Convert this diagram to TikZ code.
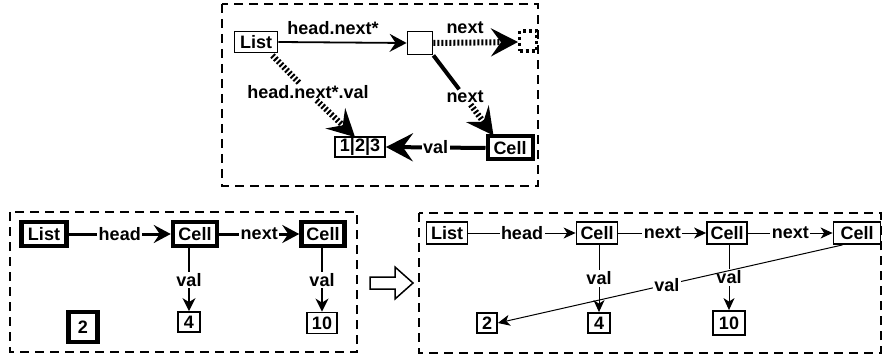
\documentclass[tikz,border=0pt]{standalone}
\usepackage{fontspec}
\setmainfont{Liberation Sans}
\usetikzlibrary{arrows.meta,calc}

\tikzset{
  every node/.style={font=\fontsize{18}{18}\selectfont\bfseries, inner sep=0pt},
  frame/.style={draw, line width=1.6pt, dash pattern=on 9pt off 6pt},
  thinbox/.style={draw, line width=1.8pt, minimum height=22pt},
  thickbox/.style={draw, line width=4.5pt, minimum height=24pt},
  lab/.style={fill=white, inner sep=1.5pt},
  hatch/.style={line width=6pt, dash pattern=on 2pt off 2pt},
  bigtip/.style={-{Stealth[length=27pt, width=28pt, inset=10pt]}},
  midtip/.style={-{Stealth[length=17pt, width=18pt, inset=6pt]}},
  smalltip/.style={-{Stealth[length=13pt, width=13pt, inset=4pt]}},
  tinytip/.style={-{Stealth[length=12pt, width=11pt, inset=3.5pt]}},
}

\begin{document}
\begin{tikzpicture}[x=1pt, y=-1pt]
\useasboundingbox (0,0) rectangle (883,358);

% ---------- abstract graph (top) ----------
\draw[frame] (222,4) rectangle (538,186);

\node[thinbox, minimum width=43pt, minimum height=21pt] (tlist) at (256,42) {List};
\node[draw, line width=1.8pt, minimum width=25pt, minimum height=23pt] (tany) at (420,43) {};
\node[thinbox, inner xsep=3pt, minimum width=50pt, minimum height=20pt] (tvals) at (360,147) {1|2|3};
\node[draw, line width=4pt, minimum width=45pt, minimum height=23pt] (tcell) at (510,148) {Cell};
\node[draw, line width=3.5pt, dash pattern=on 3pt off 3pt, minimum width=17pt, minimum height=20pt] (tmore) at (528,41) {};

\node (lhn) at (333,28) {head.next*};
\node (lnx1) at (465,28) {next};
\node[lab] (lnx2) at (465,97) {next};
\node[lab] (lhv) at (308,92) {head.next*.val};
\coordinate (tmoretip) at (518,42);
\coordinate (tcelltip) at ($(tcell.north west)+(8,1)$);
\coordinate (tvalstip) at ($(tvals.north)+(-5,1)$);
\coordinate (tlistsw) at ($(tlist.south east)+(-6,2)$);

\draw[line width=1.8pt, midtip] (tlist.east) -- (tany.west);
\draw[hatch, bigtip] (tany.east) -- (tmoretip);
\draw[line width=4pt] (tany.south east) -- (lnx2);
\draw[hatch, bigtip] (lnx2) -- (tcelltip);
\draw[hatch] (tlistsw) -- (lhv);
\draw[hatch, bigtip] (lhv) -- (tvalstip);
\draw[line width=4pt, bigtip] (tcell.west) -- node[lab] {val} (tvals.east);

% ---------- concrete heap before (bottom left) ----------
\draw[frame] (10,212) rectangle (357,352);

\node[thickbox, minimum width=45pt] (alist) at (44,234) {List};
\node[thickbox, minimum width=44pt] (acell1) at (195,234) {Cell};
\node[thickbox, minimum width=43pt] (acell2) at (323,234) {Cell};
\node[thickbox, minimum width=29pt, minimum height=30pt] (atwo) at (83,327) {2};
\node[thinbox, minimum width=22pt, minimum height=20pt] (afour) at (189,322) {4};
\node[thinbox, minimum width=30pt, minimum height=21pt] (aten) at (322,323) {10};

\draw[line width=3pt, midtip] (alist.east) -- node[lab] {head} (acell1.west);
\draw[line width=3pt, midtip] (acell1.east) -- node[lab] {next} (acell2.west);
\draw[line width=1.5pt, smalltip] (afour |- acell1.south) -- node[lab] {val} (afour.north);
\draw[line width=1.5pt, smalltip] (aten |- acell2.south) -- node[lab] {val} (aten.north);

% ---------- transition arrow ----------
\draw[line width=1.5pt, line join=miter]
  (370,277) -- (395,277) -- (395,267) -- (413,283) -- (395,299) -- (395,289) -- (370,289) -- cycle;

% ---------- concrete heap after (bottom right) ----------
\draw[frame] (419,213) rectangle (881,353);

\node[thinbox, minimum width=41pt] (blist) at (447,233) {List};
\node[thinbox, minimum width=41pt] (bcell1) at (597,233) {Cell};
\node[thinbox, minimum width=40pt] (bcell2) at (727,233) {Cell};
\node[thinbox, minimum width=47pt] (bcell3) at (857,233) {Cell};
\node[thinbox, minimum width=20pt, minimum height=20pt] (btwo) at (487,323) {2};
\node[thinbox, minimum width=22pt, minimum height=20pt] (bfour) at (599,323) {4};
\node[thinbox, minimum width=32pt, minimum height=24pt] (bten) at (729,323) {10};
\coordinate (bc3out) at ($(bcell3.south west)+(10,0)$);

\draw[line width=1pt, tinytip] (blist.east) -- node[lab] {head} (bcell1.west);
\draw[line width=1pt, tinytip] (bcell1.east) -- node[lab] {next} (bcell2.west);
\draw[line width=1pt, tinytip] (bcell2.east) -- node[lab] {next} (bcell3.west);
\draw[line width=1pt, tinytip] (bfour |- bcell1.south) -- node[lab] {val} (bfour.north);
\draw[line width=1pt, tinytip] (bten |- bcell2.south) -- node[lab] {val} (bten.north);
\draw[line width=1pt, tinytip] (bc3out) -- node[lab, pos=0.51] {val} (btwo.east);
\end{tikzpicture}
\end{document}
